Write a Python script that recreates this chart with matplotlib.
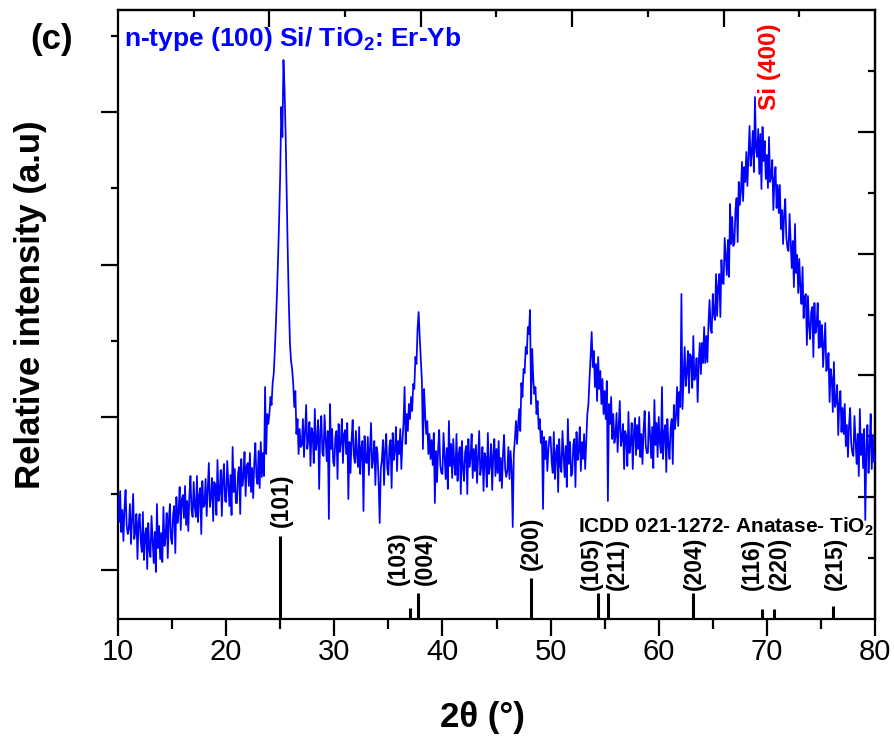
import numpy as np
import matplotlib
matplotlib.use('Agg')
import matplotlib.pyplot as plt
from matplotlib.ticker import FixedLocator, MultipleLocator

plt.rcParams['font.family'] = ['Liberation Sans', 'DejaVu Sans']
plt.rcParams['mathtext.fontset'] = 'custom'
plt.rcParams['mathtext.rm'] = 'Liberation Sans'
plt.rcParams['mathtext.bf'] = 'Liberation Sans:bold'

# ---- data (relative intensity, a.u.) sampled every 0.1 deg from 10 to 80 ----
two_theta_start = 10.0
two_theta_step = 0.1
intensity = [
    122, 97, 128, 87, 109, 78, 111, 129, 94, 85,
    90, 115, 75, 101, 125, 80, 87, 105, 60, 97,
    105, 79, 67, 107, 59, 84, 91, 50, 96, 69,
    62, 103, 79, 56, 87, 47, 115, 71, 93, 60,
    86, 57, 112, 73, 83, 106, 61, 98, 115, 80,
    75, 105, 113, 66, 122, 96, 106, 132, 89, 120,
    124, 101, 133, 94, 118, 88, 123, 143, 109, 102,
    137, 112, 102, 143, 97, 123, 131, 85, 138, 112,
    114, 140, 103, 130, 156, 112, 122, 141, 98, 137,
    134, 104, 159, 118, 127, 149, 103, 138, 155, 118,
    117, 158, 136, 113, 144, 104, 172, 127, 150, 116,
    116, 146, 152, 105, 160, 133, 142, 167, 123, 153,
    156, 133, 166, 127, 151, 121, 156, 176, 142, 135,
    168, 131, 177, 142, 166, 143, 232, 165, 205, 195,
    205, 222, 214, 236, 245, 268, 295, 325, 360, 400,
    445, 512, 482, 559, 530, 485, 425, 365, 315, 276,
    258, 250, 236, 212, 228, 185, 200, 165, 190, 172,
    174, 200, 162, 189, 214, 170, 179, 197, 153, 191,
    186, 156, 210, 169, 178, 199, 130, 187, 203, 166,
    163, 204, 180, 158, 188, 100, 215, 170, 190, 157,
    153, 182, 188, 140, 195, 167, 176, 200, 156, 185,
    189, 165, 196, 120, 177, 146, 180, 199, 164, 156,
    188, 163, 152, 192, 145, 171, 178, 108, 183, 157,
    156, 182, 144, 171, 196, 151, 160, 178, 134, 172,
    166, 136, 96, 150, 159, 179, 134, 169, 185, 150,
    144, 173, 179, 131, 186, 159, 168, 192, 148, 178,
    165, 190, 150, 178, 196, 232, 175, 205, 188, 215,
    200, 222, 208, 235, 230, 262, 255, 290, 307, 282,
    260, 238, 170, 230, 205, 185, 198, 165, 185, 160,
    179, 154, 186, 116, 168, 137, 169, 189, 154, 146,
    145, 186, 163, 140, 171, 130, 198, 153, 175, 141,
    180, 155, 144, 185, 138, 164, 172, 125, 178, 151,
    138, 167, 173, 125, 180, 152, 161, 185, 141, 170,
    148, 174, 136, 163, 188, 144, 153, 172, 128, 166,
    162, 132, 186, 145, 154, 175, 129, 164, 180, 143,
    170, 146, 178, 138, 161, 131, 165, 184, 150, 142,
    148, 172, 140, 168, 150, 92, 165, 180, 198, 175,
    195, 210, 188, 236, 222, 250, 246, 272, 265, 292,
    285, 309, 215, 270, 240, 225, 232, 205, 218, 190,
    200, 176, 188, 110, 182, 160, 178, 148, 170, 182,
    182, 157, 146, 187, 140, 166, 174, 127, 180, 153,
    147, 188, 165, 142, 173, 132, 200, 155, 177, 143,
    145, 174, 180, 132, 187, 159, 168, 192, 148, 177,
    160, 185, 150, 178, 205, 215, 240, 262, 287, 252,
    268, 232, 255, 218, 262, 230, 248, 215, 240, 205,
    228, 200, 238, 118, 215, 195, 222, 180, 205, 176,
    182, 206, 167, 192, 218, 173, 180, 195, 150, 188,
    183, 153, 207, 166, 175, 196, 150, 185, 201, 164,
    194, 170, 202, 162, 185, 155, 189, 208, 174, 166,
    166, 207, 184, 161, 192, 151, 219, 174, 196, 162,
    202, 177, 166, 232, 160, 186, 194, 147, 200, 173,
    160, 191, 200, 155, 214, 190, 203, 232, 193, 227,
    212, 325, 210, 242, 272, 233, 247, 268, 226, 265,
    262, 231, 283, 239, 244, 261, 217, 256, 276, 245,
    276, 256, 292, 256, 283, 257, 295, 319, 290, 286,
    325, 305, 299, 345, 303, 333, 345, 302, 359, 336,
    335, 381, 363, 344, 379, 342, 415, 375, 402, 373,
    376, 410, 421, 377, 437, 414, 428, 457, 418, 452,
    437, 467, 433, 464, 493, 453, 466, 488, 447, 522,
    470, 462, 490, 445, 485, 430, 492, 458, 478, 440,
    464, 431, 482, 437, 442, 459, 409, 440, 452, 411,
    434, 406, 434, 390, 409, 375, 405, 420, 382, 371,
    368, 405, 378, 351, 378, 332, 395, 346, 364, 326,
    360, 331, 315, 352, 301, 322, 325, 274, 323, 293,
    280, 307, 312, 262, 316, 286, 294, 316, 271, 298,
    272, 294, 252, 275, 296, 248, 252, 266, 217, 250,
    241, 207, 257, 212, 217, 234, 184, 215, 228, 187,
    211, 185, 215, 173, 194, 162, 194, 211, 176, 166,
    163, 203, 179, 155, 185, 143, 210, 164, 185, 151,
    190, 99, 170, 194, 146, 172, 205, 150, 184, 157,
    165,
]
two_theta = two_theta_start + two_theta_step * np.arange(len(intensity))

# ICDD 021-1272 anatase reference sticks
icdd_hkl = ['(101)', '(103)', '(004)', '(200)', '(105)', '(211)',
            '(204)', '(116)', '(220)', '(215)']
icdd_pos = [25.0, 37.0, 37.75, 48.18, 54.4, 55.33, 63.19, 69.56, 70.67, 76.13]
icdd_int = [83, 11, 26, 41, 26, 26, 26, 10, 10, 13]

# label placement (layout only)
label_x = [25.1, 35.9, 38.4, 48.2, 53.8, 56.2, 63.3, 68.7, 71.2, 76.3]
label_y = [92, 34, 34, 49, 29, 29, 29, 29, 29, 29]

W, H = 895, 747
fig = plt.figure(figsize=(W / 100, H / 100), dpi=100)
ax = fig.add_axes([118 / W, 128 / H, 757 / W, 609 / H])

ax.vlines(icdd_pos, 0, icdd_int, color='black', lw=2.2, zorder=2)
ax.plot(two_theta, intensity, color='#0000ff', lw=1.25, zorder=3)

for t, xx, yy in zip(icdd_hkl, label_x, label_y):
    ax.text(xx, yy, t, rotation=90, ha='center', va='bottom',
            fontsize=16.5, fontweight='bold', color='black')

ax.set_xlim(10, 80)
ax.set_ylim(0, 609)

for s in ax.spines.values():
    s.set_linewidth(1.6)

ax.xaxis.set_major_locator(MultipleLocator(10))
ax.xaxis.set_minor_locator(MultipleLocator(5))
ax.tick_params(axis='x', which='major', direction='out', length=12, width=1.6,
               labelsize=21, pad=2)
ax.tick_params(axis='x', which='minor', direction='out', length=7, width=1.6)

ax.yaxis.set_major_locator(FixedLocator([49, 201.7, 354.4, 507.1]))
ax.yaxis.set_minor_locator(FixedLocator([125.3, 278, 430.7, 583.4]))
ax.tick_params(axis='y', which='major', direction='out', length=12, width=1.6,
               labelleft=False)
ax.tick_params(axis='y', which='minor', direction='out', length=5, width=1.6)

# top / right frame ticks (inward, 10 divisions)
secx = ax.secondary_xaxis('top')
secx.xaxis.set_major_locator(FixedLocator([24, 38, 52, 66]))
secx.xaxis.set_minor_locator(FixedLocator([17, 31, 45, 59, 73]))
secx.tick_params(which='major', direction='in', length=12, width=1.6, labeltop=False)
secx.tick_params(which='minor', direction='in', length=5, width=1.6)
secx.spines['top'].set_linewidth(1.6)

secy = ax.secondary_yaxis('right')
secy.yaxis.set_major_locator(FixedLocator([121.8, 243.6, 365.4, 487.2]))
secy.yaxis.set_minor_locator(FixedLocator([60.9, 182.7, 304.5, 426.3, 548.1]))
secy.tick_params(which='major', direction='in', length=12, width=1.6, labelright=False)
secy.tick_params(which='minor', direction='in', length=5, width=1.6)
secy.spines['right'].set_linewidth(1.6)

# annotations
ax.text(0.008, 0.975, r'n-type (100) Si/ TiO$_{\mathbf{2}}$: Er-Yb', transform=ax.transAxes,
        ha='left', va='top', fontsize=19, fontweight='bold', color='#0000ff')
ax.text(70.2, 509, 'Si (400)', rotation=90, ha='center', va='bottom',
        fontsize=17.5, fontweight='bold', color='#ff0000')
ax.text(52.55, 87, r'ICDD 021-1272- Anatase- TiO$_{\mathbf{2}}$', ha='left', va='baseline',
        fontsize=15, fontweight='bold', color='black')

fig.text(52 / W, 1 - 40 / H, '(c)', ha='center', va='center', fontsize=25,
         fontweight='bold')
fig.text(31 / W, 1 - 305 / H, 'Relative intensity (a.u)', rotation=90,
         ha='center', va='center', fontsize=25, fontweight='bold')
fig.text(482 / W, 1 - 718 / H, '2θ (°)', ha='center', va='center', fontsize=25,
         fontweight='bold')

fig.savefig('out.png', dpi=100)
